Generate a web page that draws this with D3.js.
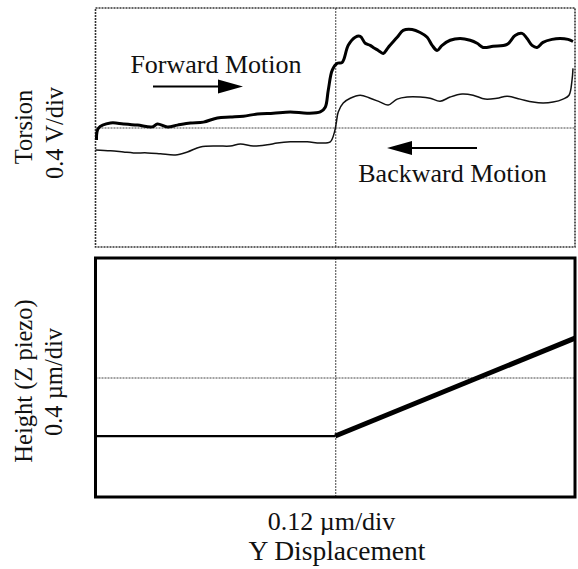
<!DOCTYPE html>
<html><head><meta charset="utf-8">
<script src="https://cdn.jsdelivr.net/npm/d3@7"></script>
<style>body{margin:0;background:#fff}svg{display:block}text{font-family:"Liberation Serif","Times New Roman",serif;fill:#111}</style>
</head><body>
<script>
// Y displacement (µm) sampled along the scan
const forwardX = [0.0005,0.0015,0.0075,0.014,0.021,0.0285,0.031,0.036,0.041,0.0475,0.054,0.061,0.0675,0.074,0.081,0.089,0.0975,0.106,0.1125,0.115,0.1165,0.1185,0.121,0.1235,0.1265,0.13,0.1325,0.135,0.1375,0.139,0.1415,0.144,0.1465,0.151,0.154,0.1585,0.1625,0.166,0.1685,0.171,0.1735,0.1775,0.1825,0.1875,0.191,0.194,0.199,0.206,0.21,0.2135,0.216,0.2185,0.221,0.224,0.2285,0.2325,0.2365,0.239];
// Torsion (V), forward motion (thick trace)
const forwardTorsion = [-0.042,-0.002,0.015,0.012,0.008,0.002,0.012,0.002,0.008,0.015,0.018,0.032,0.035,0.038,0.045,0.048,0.052,0.048,0.052,0.068,0.125,0.192,0.215,0.218,0.275,0.302,0.305,0.282,0.275,0.268,0.258,0.248,0.268,0.302,0.325,0.328,0.318,0.302,0.275,0.258,0.275,0.292,0.298,0.292,0.282,0.268,0.272,0.278,0.308,0.315,0.298,0.275,0.268,0.285,0.295,0.298,0.295,0.288];
const backwardX = [0,0.0075,0.014,0.019,0.026,0.0325,0.04,0.046,0.0525,0.061,0.0675,0.0725,0.079,0.086,0.091,0.0975,0.106,0.1125,0.1175,0.1195,0.1205,0.1215,0.124,0.1275,0.1325,0.1375,0.1425,0.1465,0.151,0.156,0.1625,0.1675,0.1725,0.1775,0.1835,0.189,0.195,0.201,0.206,0.2125,0.219,0.224,0.229,0.234,0.237,0.2385,0.239];
// Torsion (V), backward motion (thin trace)
const backwardTorsion = [-0.075,-0.078,-0.082,-0.085,-0.085,-0.088,-0.092,-0.082,-0.065,-0.062,-0.062,-0.055,-0.062,-0.058,-0.052,-0.048,-0.048,-0.052,-0.048,-0.018,0.015,0.052,0.082,0.098,0.108,0.098,0.085,0.075,0.095,0.102,0.102,0.098,0.088,0.102,0.112,0.108,0.095,0.098,0.105,0.095,0.085,0.082,0.085,0.095,0.108,0.158,0.198];
// Height (Z piezo, µm)
const flatX = [0, 0.12];
const flatHeight = [-0.196, -0.196];
const rampX = [0.12, 0.24];
const rampHeight = [-0.196, 0.132];
const xDomain = [0, 0.24], xMid = [0.12];
const torsionDomain = [-0.4, 0.4], heightDomain = [-0.4, 0.4], yMid = [0];
const labels = {
  torsion: ["Torsion", "0.4 V/div"],
  height: ["Height (Z piezo)", "0.4 µm/div"],
  x: ["0.12 µm/div", "Y Displacement"],
  fwd: "Forward Motion", bwd: "Backward Motion"
};

const W = 578, H = 569;
const svg = d3.select("body").append("svg").attr("width", W).attr("height", H);
const L = 95.5, R = 575;
const top1 = 8, bot1 = 247, top2 = 258, bot2 = 497;
const x = d3.scaleLinear().domain(xDomain).range([L, R]);
const yT = d3.scaleLinear().domain(torsionDomain).range([bot1, top1]);
const yH = d3.scaleLinear().domain(heightDomain).range([bot2, top2]);

function grid(yScale, t, b, dash) {
  const gx = svg.append("g").attr("transform", `translate(0,${b})`)
    .call(d3.axisBottom(x).tickValues(xMid).tickSize(-(b - t)).tickFormat(""));
  gx.select(".domain").remove();
  gx.selectAll("line").attr("stroke", "#444").attr("stroke-width", 1).attr("stroke-dasharray", dash);
  const gy = svg.append("g").attr("transform", `translate(${L},0)`)
    .call(d3.axisLeft(yScale).tickValues(yMid).tickSize(-(R - L)).tickFormat(""));
  gy.select(".domain").remove();
  gy.selectAll("line").attr("stroke", "#444").attr("stroke-width", 1).attr("stroke-dasharray", dash);
}
grid(yT, top1, bot1, "2,1");
grid(yH, top2, bot2, "2,1");

// top panel frame (dotted)
svg.append("rect").attr("x", L).attr("y", top1).attr("width", R - L).attr("height", bot1 - top1)
  .attr("fill", "none").attr("stroke", "#333").attr("stroke-width", 1.6).attr("stroke-dasharray", "2,1");

const line = (ys) => d3.line().x(d => x(d[0])).y(d => ys(d[1])).curve(d3.curveCatmullRom.alpha(0.5));
svg.append("path").datum(backwardX.map((v, i) => [v, backwardTorsion[i]]))
  .attr("d", line(yT)).attr("fill", "none").attr("stroke", "#111").attr("stroke-width", 1.5);
svg.append("path").datum(forwardX.map((v, i) => [v, forwardTorsion[i]]))
  .attr("d", line(yT)).attr("fill", "none").attr("stroke", "#000").attr("stroke-width", 3);

// bottom panel
svg.append("path").datum(flatX.map((v, i) => [v, flatHeight[i]]))
  .attr("d", d3.line().x(d => x(d[0])).y(d => yH(d[1]))).attr("fill", "none").attr("stroke", "#000").attr("stroke-width", 2.2);
svg.append("path").datum(rampX.map((v, i) => [v, rampHeight[i]]))
  .attr("d", d3.line().x(d => x(d[0])).y(d => yH(d[1]))).attr("fill", "none").attr("stroke", "#000").attr("stroke-width", 5);
svg.append("rect").attr("x", L).attr("y", top2).attr("width", R - L).attr("height", bot2 - top2)
  .attr("fill", "none").attr("stroke", "#000").attr("stroke-width", 3);

// annotations
const fs = 26, vfs = 24.5;
svg.append("text").attr("x", 216).attr("y", 73).attr("text-anchor", "middle").attr("font-size", fs).text(labels.fwd);
svg.append("text").attr("x", 452.5).attr("y", 182).attr("text-anchor", "middle").attr("font-size", fs).text(labels.bwd);
function arrow(x1, x2, y) {
  const dir = Math.sign(x2 - x1);
  svg.append("line").attr("x1", x1).attr("x2", x2 - dir * 22).attr("y1", y).attr("y2", y).attr("stroke", "#000").attr("stroke-width", 2.2);
  svg.append("path").attr("d", `M${x2},${y} L${x2 - dir * 25},${y - 7} L${x2 - dir * 25},${y + 7} Z`).attr("fill", "#000");
}
arrow(153, 243, 86.5);
arrow(477, 387, 148);

function vlabel(lines, cy, xs) {
  lines.forEach((t, i) => {
    svg.append("text").attr("transform", `translate(${xs[i]},${cy[i]}) rotate(-90)`)
      .attr("text-anchor", "middle").attr("font-size", vfs).text(t);
  });
}
vlabel(labels.torsion, [127, 133], [32, 63]);
vlabel(labels.height, [381, 382], [32, 62]);
svg.append("text").attr("x", 331.5).attr("y", 530).attr("text-anchor", "middle").attr("font-size", fs).text(labels.x[0]);
svg.append("text").attr("x", 337).attr("y", 560).attr("text-anchor", "middle").attr("font-size", 27.5).text(labels.x[1]);
</script>
</body></html>
